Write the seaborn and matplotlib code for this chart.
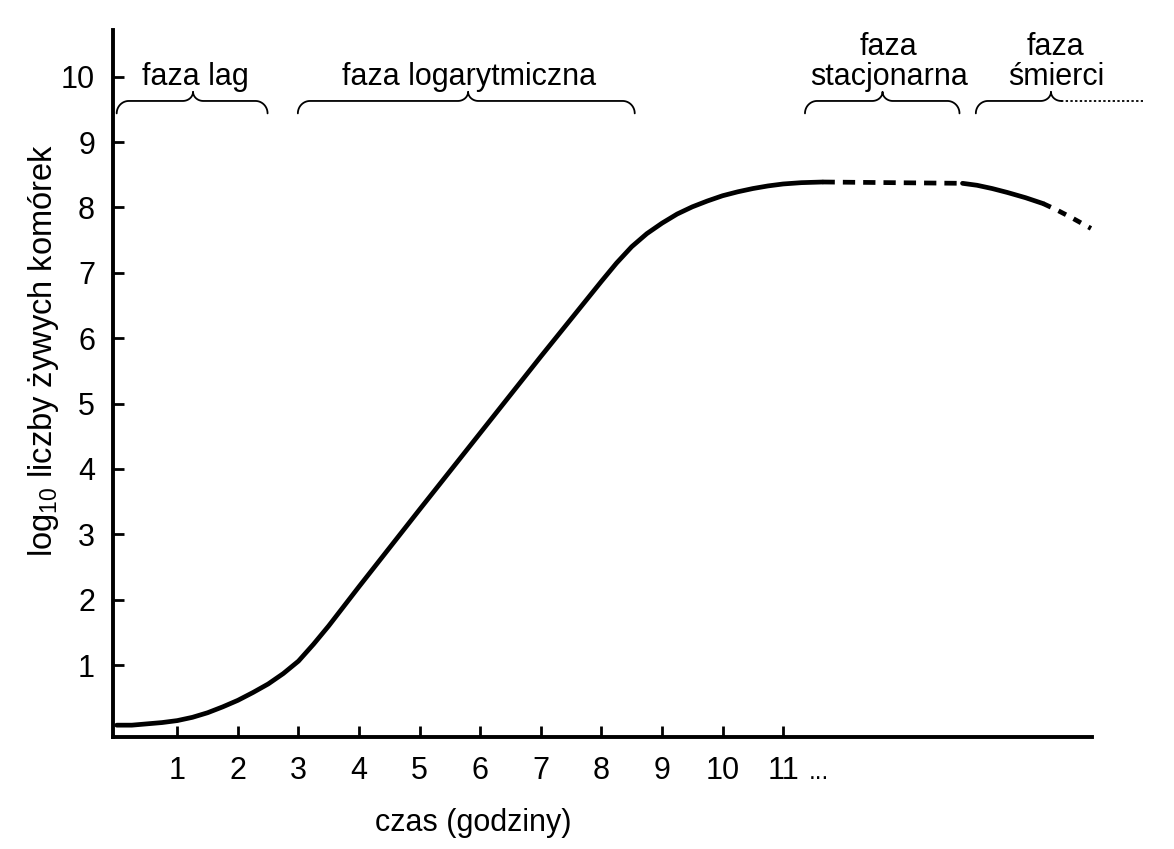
import numpy as np
import pandas as pd
import matplotlib
matplotlib.use("Agg")
import matplotlib.pyplot as plt
import seaborn as sns

# growth curve (time in hours, log10 of viable cells)
time_growth = [0, 0.25, 0.5, 0.75, 1, 1.25, 1.5, 1.75, 2, 2.25, 2.5, 2.75, 3, 3.25, 3.5,
               4, 5, 6, 7, 8, 8.25, 8.5, 8.75, 9, 9.25, 9.5, 9.75, 10, 10.25, 10.5, 10.75,
               11, 11.3, 11.65]
log_growth = [0.08, 0.08, 0.1, 0.12, 0.15, 0.2, 0.27, 0.36, 0.46, 0.58, 0.71, 0.87, 1.06, 1.32, 1.6,
              2.2, 3.38, 4.55, 5.72, 6.87, 7.15, 7.4, 7.6, 7.76, 7.9, 8.01, 8.1, 8.18, 8.24, 8.29, 8.33,
              8.36, 8.38, 8.39]

time_stationary = [11.65, 13.96]
log_stationary = [8.39, 8.37]

time_death = [13.96, 14.2, 14.45, 14.7, 15.0, 15.29]
log_death = [8.37, 8.34, 8.29, 8.23, 8.15, 8.06]

time_death_dashed = [15.29, 15.5, 15.75, 16.08]
log_death_dashed = [8.06, 7.97, 7.85, 7.68]

# phase annotations (braces above the curve)
phase_labels = ["faza lag", "faza logarytmiczna", "faza\nstacjonarna", "faza\nśmierci"]
brace_start = [0.0, 2.99, 11.36, 14.18]
brace_end = [2.49, 8.55, 13.91, 16.94]
brace_mid = [1.26, 5.80, 12.64, 15.42]
label_x = [1.3, 5.82, 12.74, 15.5]

x_ticks = [1, 2, 3, 4, 5, 6, 7, 8, 9, 10, 11]
y_ticks = [1, 2, 3, 4, 5, 6, 7, 8, 9, 10]

sns.set_theme(style="ticks")
plt.rcParams["font.family"] = ["Liberation Sans", "DejaVu Sans"]
plt.rcParams["mathtext.default"] = "regular"
plt.rcParams["text.color"] = "black"
plt.rcParams["axes.labelcolor"] = "black"

fs = 22

fig = plt.figure(figsize=(11.74, 8.49), dpi=100)
ax = fig.add_axes([0.0963, 0.132, 0.834, 0.833])

lw = 3.4
sns.lineplot(x=time_growth, y=log_growth, ax=ax, color="black", lw=lw)
sns.lineplot(x=time_stationary, y=log_stationary, ax=ax, color="black", lw=lw,
             linestyle=(0, (2.6, 1.7)))
sns.lineplot(x=time_death, y=log_death, ax=ax, color="black", lw=lw)
sns.lineplot(x=time_death_dashed, y=log_death_dashed, ax=ax, color="black", lw=lw,
             linestyle=(0, (1.8, 1.8)))


def draw_brace(ax, x0, x1, xm, dotted_right=False):
    y = 9.63      # flat part
    h = 0.19      # how far the ends hook down
    p = 0.14      # height of the middle point
    r = 0.2       # end curve width
    r2 = 0.17     # middle curve half width
    t = np.linspace(0, np.pi / 2, 20)
    # left hook
    lx = x0 + r * (1 - np.cos(t))
    ly = y - h + h * np.sin(t)
    # rise to middle point
    mx1 = xm - r2 * (1 - np.sin(t))
    my1 = y + p * (1 - np.cos(t))
    mx2 = xm + r2 * (1 - np.sin(t[::-1]))
    my2 = y + p * (1 - np.cos(t[::-1]))
    xs = np.concatenate([lx, mx1, mx2])
    ys = np.concatenate([ly, my1, my2])
    if dotted_right:
        ax.plot(xs, ys, color="black", lw=1.3, clip_on=False)
        ax.plot([xm + r2, x1], [y, y], color="black", lw=1.3, linestyle=(0, (1.3, 1.3)), clip_on=False)
        return
    rx = x1 - r * (1 - np.cos(t[::-1]))
    ry = y - h + h * np.sin(t[::-1])
    xs = np.concatenate([xs, rx])
    ys = np.concatenate([ys, ry])
    ax.plot(xs, ys, color="black", lw=1.3, clip_on=False)


for i, lab in enumerate(phase_labels):
    draw_brace(ax, brace_start[i], brace_end[i], brace_mid[i], dotted_right=(i == 3))
    ax.text(label_x[i], 9.88, lab, ha="center", va="baseline", fontsize=fs,
            linespacing=1.0, clip_on=False)

ax.set_xlim(-0.06, 16.1)
ax.set_ylim(-0.1, 10.72)
ax.set_xticks(x_ticks)
ax.set_xticklabels([str(v) for v in x_ticks])
ax.set_yticks(y_ticks)
ax.set_yticklabels([str(v) for v in y_ticks])
ax.text(11.42, -0.74, "...", ha="left", va="baseline", fontsize=fs * 0.8)

ax.tick_params(axis="both", direction="in", length=8, width=2, labelsize=fs, colors="black")
ax.tick_params(axis="x", pad=14)
ax.tick_params(axis="y", pad=13)

for side in ["top", "right"]:
    ax.spines[side].set_visible(False)
for side in ["left", "bottom"]:
    ax.spines[side].set_linewidth(2.8)
    ax.spines[side].set_color("black")

ax.set_xlabel("czas (godziny)", fontsize=fs)
ax.xaxis.set_label_coords(0.368, -0.1)
ax.set_ylabel("log$_{10}$ liczby żywych komórek", fontsize=23.5)
ax.yaxis.set_label_coords(-0.053, 0.547)

fig.savefig("out.png", dpi=100, facecolor="white")
